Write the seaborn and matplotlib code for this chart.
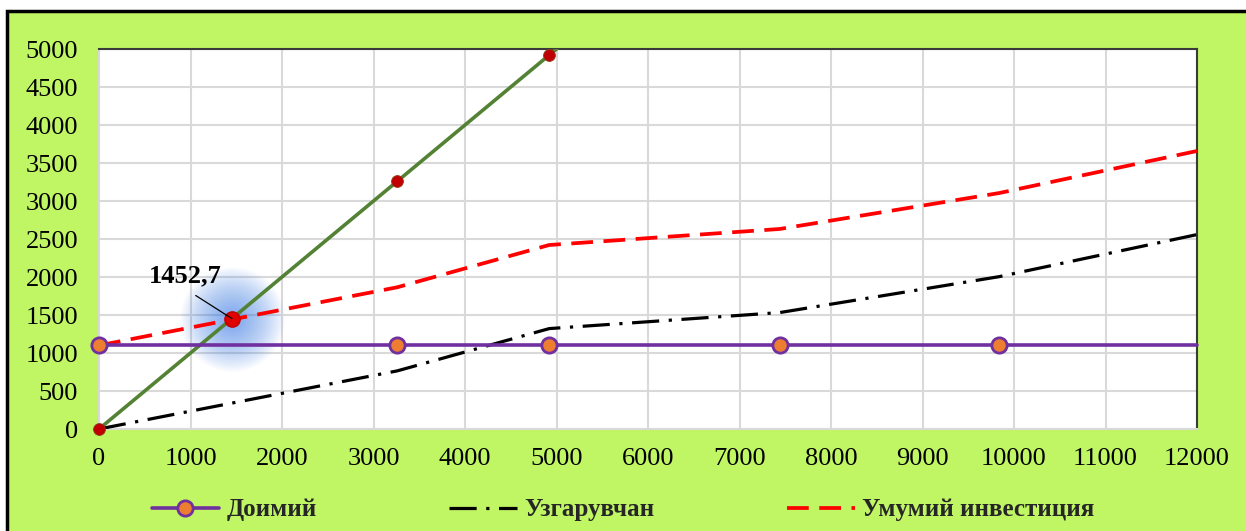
import matplotlib
matplotlib.use('Agg')
from matplotlib import pyplot as plt
from matplotlib import patches
import numpy as np
import pandas as pd
import seaborn as sns

# volume points (x axis) and the four series
volume = [0, 3260, 4920, 7440, 9840, 12000]
fixed = [1100, 1100, 1100, 1100, 1100, 1100]
variable = [0, 765, 1321, 1532, 2005, 2558]
total = [1100, 1865, 2421, 2632, 3105, 3658]
revenue = [0, 3260, 4920, 7440, 9840, 12000]

be_point = 1452.7
be_label = '1452,7'

names = ['Доимий', 'Узгарувчан', 'Умумий инвестиция']

df = pd.DataFrame({'x': volume, 'fixed': fixed, 'variable': variable,
                   'total': total, 'revenue': revenue})

sns.set_style('white')
plt.rcParams['font.family'] = ['Liberation Serif', 'DejaVu Serif']

fig = plt.figure(figsize=(12.46, 5.31), dpi=100, facecolor='white')
# green chart area with black frame
bg = patches.Rectangle((7 / 1246, -0.02), 1.05, 1 - 11 / 531 + 0.02,
                       transform=fig.transFigure, facecolor='#c0f564',
                       edgecolor='black', linewidth=2.5, zorder=-10)
fig.patches.append(bg)

ax = fig.add_axes([99 / 1246, 1 - 429 / 531, 1098 / 1246, 380 / 531])
ax.set_zorder(1)
ax.set_facecolor('white')
ax.set_axisbelow(True)

# revenue line (no legend entry), clipped at the top
sns.lineplot(data=df, x='x', y='revenue', ax=ax, color='#548235', lw=2.6,
             label='_nolegend_', zorder=3)
inside = df[df['revenue'] <= 5000]
ax.plot(inside['x'], inside['revenue'], 'o', ms=8.5, color='#c00000',
        mec='#8b3a1a', mew=0.6, clip_on=False, zorder=6)

# fixed
sns.lineplot(data=df, x='x', y='fixed', ax=ax, color='#7030a0', lw=2.6,
             marker='o', ms=11, mfc='#ed7d31', mec='#7030a0', mew=2,
             markevery=list(range(len(volume) - 1)), label=names[0],
             zorder=4, clip_on=False)
# variable
sns.lineplot(data=df, x='x', y='variable', ax=ax, color='black', lw=2.3,
             linestyle=(0, (8.5, 3, 1, 3)), label=names[1], zorder=3)
# total
sns.lineplot(data=df, x='x', y='total', ax=ax, color='#ff0000', lw=2.7,
             linestyle=(0, (5.8, 2.8)), label=names[2], zorder=3)

# soft glow around the break-even point
for d in np.linspace(75, 10, 24):
    ax.scatter([be_point], [be_point], s=d ** 2, color='#3f7ff0', alpha=0.037,
               linewidths=0, zorder=2)
ax.plot([be_point], [be_point], 'o', ms=11, color='#e00000', mec='#c00000',
        zorder=7)
ax.annotate(be_label, xy=(be_point, be_point), xytext=(940, 2010),
            ha='center', va='center', fontsize=19, fontweight='bold',
            color='black',
            arrowprops=dict(arrowstyle='-', color='black', lw=0.9,
                            relpos=(0.48, 0), shrinkA=6, shrinkB=0),
            zorder=8)

ax.set_xlim(0, 12000)
ax.set_ylim(0, 5000)
ax.set_xticks(range(0, 12001, 1000))
ax.set_yticks(range(0, 5001, 500))
ax.grid(True, color='#d9d9d9', lw=1.5)
ax.tick_params(axis='both', length=0, labelsize=19, colors='black')
ax.tick_params(axis='x', pad=14)
ax.tick_params(axis='y', pad=15)
ax.set_xlabel('')
ax.set_ylabel('')
for s in ['top', 'right']:
    ax.spines[s].set_color('#3a3a3a')
    ax.spines[s].set_linewidth(1.5)
for s in ['left', 'bottom']:
    ax.spines[s].set_color('#d9d9d9')
    ax.spines[s].set_linewidth(1.5)

handles, labels = ax.get_legend_handles_labels()
ax.legend_.remove()
fig.legend(handles, labels, loc='center', bbox_to_anchor=(0.5, 0.04),
           ncol=3, frameon=False, handlelength=2.7, handletextpad=0.3,
           columnspacing=5.3, prop={'family': 'Liberation Serif',
                                    'weight': 'bold', 'size': 18})

fig.savefig('out.png', dpi=100, facecolor='white')
